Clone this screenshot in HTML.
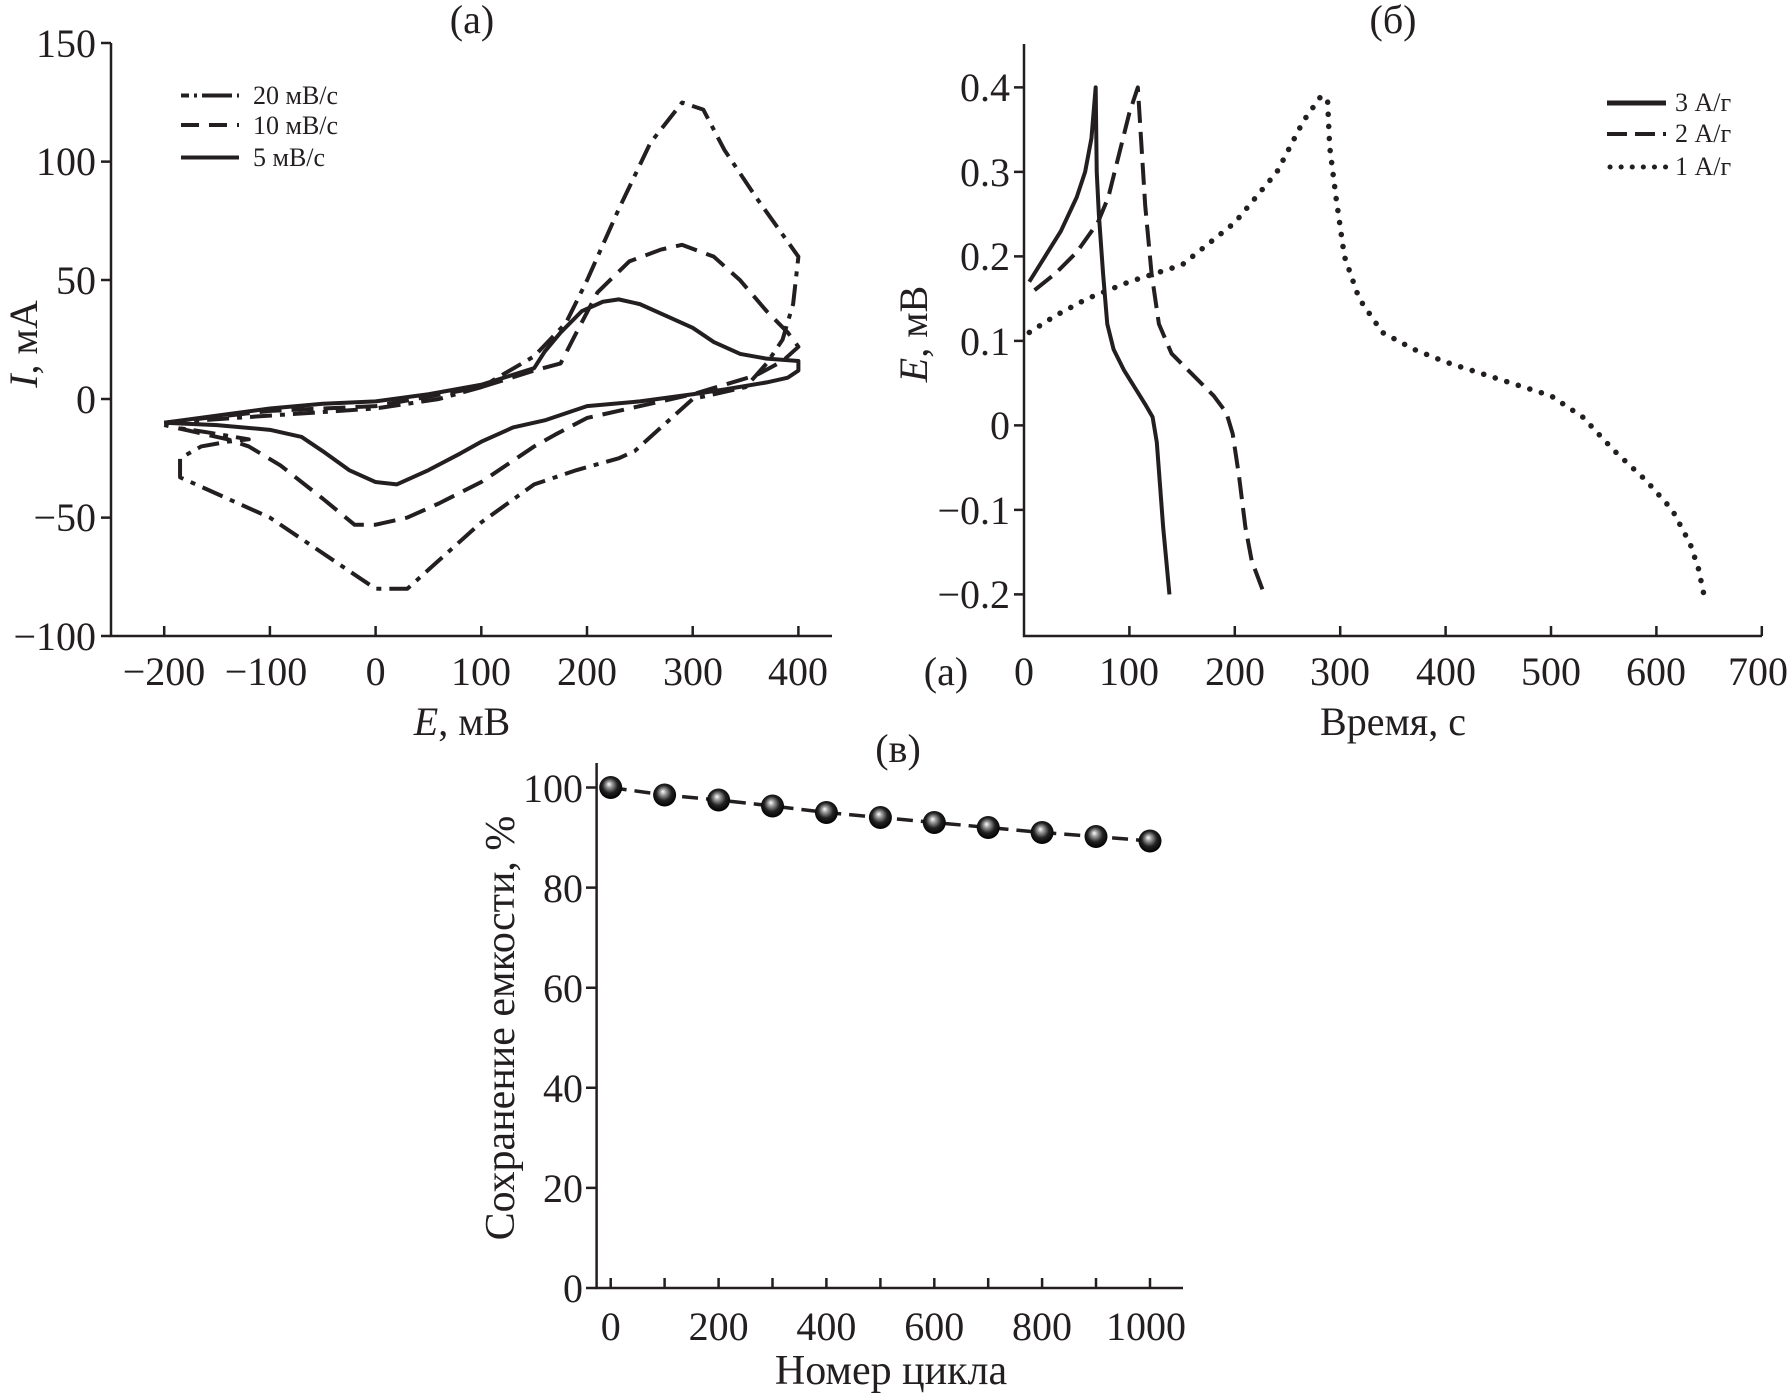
<!DOCTYPE html>
<html><head><meta charset="utf-8">
<style>
html,body{margin:0;padding:0;background:#fff;}
svg{display:block;}
text{font-family:"Liberation Serif",serif;fill:#231f20;}
.t{font-size:40px;}
.lg{font-size:26px;}
.ax{stroke:#231f20;stroke-width:2.5;fill:none;}
.c{fill:none;stroke:#231f20;stroke-width:4;stroke-linejoin:round;vector-effect:non-scaling-stroke;}
</style></head>
<body>
<svg width="1791" height="1399" viewBox="0 0 1791 1399" xmlns="http://www.w3.org/2000/svg">
<defs>
<radialGradient id="ball" cx="0.5" cy="0.45" r="0.55" fx="0.42" fy="0.35">
<stop offset="0" stop-color="#fff"/><stop offset="0.25" stop-color="#999"/><stop offset="0.6" stop-color="#222"/><stop offset="1" stop-color="#000"/>
</radialGradient>
</defs>

<!-- Panel (a) -->
<text class="t" x="472" y="33" text-anchor="middle">(a)</text>
<path class="ax" d="M111,43 V636 H832"/>
<g class="ax">
<path d="M101,43H111M101,161.6H111M101,280H111M101,399H111M101,517.6H111M101,636H111"/>
<path d="M164.2,636v-10M269.9,636v-10M375.6,636v-10M481.3,636v-10M587,636v-10M692.7,636v-10M798.4,636v-10"/>
</g>
<g class="t" text-anchor="end">
<text x="96" y="57">150</text><text x="96" y="175">100</text><text x="96" y="294">50</text>
<text x="96" y="413">0</text><text x="96" y="531">−50</text><text x="96" y="650">−100</text>
</g>
<g class="t" text-anchor="middle">
<text x="164" y="685">−200</text><text x="266" y="685">−100</text><text x="375.6" y="685">0</text>
<text x="481" y="685">100</text><text x="587" y="685">200</text><text x="693" y="685">300</text><text x="798" y="685">400</text>
</g>
<text class="t" x="462" y="735" text-anchor="middle"><tspan font-style="italic">E</tspan>, мВ</text>
<text class="t" transform="translate(37,344) rotate(-90)" text-anchor="middle"><tspan font-style="italic">I</tspan>, мА</text>
<g class="lg">
<text x="253" y="104">20 мВ/с</text><text x="253" y="134">10 мВ/с</text><text x="253" y="166">5 мВ/с</text>
</g>
<path class="c" d="M181,95.5H239" stroke-dasharray="8 5 3 5 22 0" style="vector-effect:none"/>
<path class="c" d="M181,125H239" stroke-dasharray="18 10" style="vector-effect:none"/>
<path class="c" d="M181,157.5H239" style="vector-effect:none"/>
<g transform="translate(375.6,399) scale(1.057,-2.372)">
<path class="c" stroke-dasharray="22 8 5 8" d="M-200,-10 L-100,-7 L0,-4 L60,0 L100,5 L150,18 L180,32 L200,50 L230,80 L260,108 L290,125 L310,122 L330,105 L360,85 L400,60 L395,40 L385,25 L370,15 L350,5 L300,0 L270,-12 L245,-22 L230,-25 L190,-30 L150,-36 L100,-52 L60,-68 L30,-80 L0,-80 L-40,-68 L-100,-50 L-150,-40 L-185,-33 L-185,-25 L-165,-20 L-140,-18 L-120,-17 L-160,-14 L-190,-12"/>
<path class="c" stroke-dasharray="22 10" d="M-200,-10 L-100,-5 L0,-3 L100,5 L150,12 L175,15 L190,28 L210,45 L240,58 L270,63 L290,65 L320,60 L345,50 L370,37 L390,28 L400,22 L385,16 L360,10 L300,2 L200,-8 L170,-15 L150,-20 L100,-35 L60,-44 L30,-50 L0,-53 L-20,-53 L-50,-42 L-90,-28 L-120,-20 L-140,-17 L-170,-14 L-200,-11"/>
<path class="c" d="M-200,-10 L-150,-7 L-100,-4 L-50,-2 L0,-1 L50,2 L100,6 L150,13 L160,20 L175,28 L195,37 L215,41 L230,42 L250,40 L275,35 L300,30 L320,24 L345,19 L370,17 L400,16 L400,12 L390,9 L370,7 L330,4 L300,2 L250,-1 L200,-3 L180,-6 L160,-9 L130,-12 L100,-18 L80,-23 L50,-30 L20,-36 L0,-35 L-25,-30 L-50,-22 L-70,-16 L-100,-13 L-150,-11 L-200,-10"/>
</g>

<!-- Panel (б) -->
<text class="t" x="1393" y="33" text-anchor="middle">(б)</text>
<path class="ax" d="M1024,44 V636 H1762"/>
<g class="ax">
<path d="M1014,87.4H1024M1014,171.9H1024M1014,256.4H1024M1014,340.9H1024M1014,425.4H1024M1014,509.9H1024M1014,594.4H1024"/>
<path d="M1129.4,636v-10M1234.8,636v-10M1340.2,636v-10M1445.6,636v-10M1551,636v-10M1656.4,636v-10M1761.8,636v-10"/>
</g>
<g class="t" text-anchor="end">
<text x="1010" y="101">0.4</text><text x="1010" y="186">0.3</text><text x="1010" y="270">0.2</text>
<text x="1010" y="355">0.1</text><text x="1010" y="439">0</text><text x="1010" y="524">−0.1</text><text x="1010" y="608">−0.2</text>
</g>
<g class="t" text-anchor="middle">
<text x="1024" y="685">0</text><text x="1129" y="685">100</text><text x="1235" y="685">200</text><text x="1340" y="685">300</text>
<text x="1446" y="685">400</text><text x="1551" y="685">500</text><text x="1656" y="685">600</text><text x="1758" y="685">700</text>
<text x="946" y="685">(a)</text>
</g>
<text class="t" x="1393" y="735" text-anchor="middle">Время, с</text>
<text class="t" transform="translate(927,334) rotate(-90)" text-anchor="middle"><tspan font-style="italic">E</tspan>, мВ</text>
<g class="lg">
<text x="1675" y="111">3 А/г</text><text x="1675" y="142">2 А/г</text><text x="1675" y="175">1 А/г</text>
</g>
<path class="c" d="M1607,103H1666" style="vector-effect:none;stroke-width:5"/>
<path class="c" d="M1607,134H1666" stroke-dasharray="20 8" style="vector-effect:none"/>
<path class="c" d="M1610,167H1666" stroke-dasharray="0.1 11" stroke-linecap="round" style="vector-effect:none;stroke-width:5"/>
<g transform="translate(1024,425.4) scale(1.054,-845)">
<path class="c" d="M5,0.17 L20,0.2 L35,0.23 L50,0.27 L58,0.3 L64,0.34 L68,0.4 L69,0.3 L71,0.25 L75,0.18 L79,0.12 L85,0.09 L95,0.065 L105,0.045 L115,0.025 L122,0.01 L126,-0.02 L129,-0.07 L132,-0.12 L135,-0.16 L138,-0.2"/>
<path class="c" stroke-dasharray="22 9" d="M10,0.16 L30,0.18 L50,0.205 L70,0.24 L80,0.27 L90,0.32 L100,0.37 L108,0.4 L111,0.34 L115,0.26 L121,0.18 L128,0.12 L140,0.085 L160,0.06 L180,0.035 L192,0.015 L198,-0.01 L204,-0.06 L210,-0.12 L216,-0.16 L228,-0.2"/>
<path class="c" stroke-dasharray="0.1 12" stroke-linecap="round" style="stroke-width:5.5" d="M5,0.11 L30,0.13 L60,0.15 L100,0.17 L150,0.19 L200,0.24 L240,0.3 L265,0.36 L282,0.39 L288,0.385 L290,0.33 L296,0.27 L304,0.2 L318,0.15 L340,0.11 L370,0.09 L400,0.075 L450,0.055 L500,0.035 L530,0.01 L560,-0.03 L590,-0.065 L615,-0.1 L632,-0.14 L640,-0.17 L645,-0.2"/>
</g>

<!-- Panel (в) -->
<text class="t" x="898" y="762" text-anchor="middle">(в)</text>
<path class="ax" d="M596.6,763 V1288 H1183"/>
<g class="ax">
<path d="M586,787.5H596.6M586,887.6H596.6M586,987.7H596.6M586,1087.8H596.6M586,1187.9H596.6M586,1288H596.6"/>
<path d="M610.7,1288v-10M664.6,1288v-10M718.6,1288v-10M772.5,1288v-10M826.4,1288v-10M880.4,1288v-10M934.3,1288v-10M988.2,1288v-10M1042.1,1288v-10M1096,1288v-10M1150,1288v-10"/>
</g>
<g class="t" text-anchor="end">
<text x="583" y="802">100</text><text x="583" y="902">80</text><text x="583" y="1002">60</text>
<text x="583" y="1102">40</text><text x="583" y="1202">20</text><text x="583" y="1302">0</text>
</g>
<g class="t" text-anchor="middle">
<text x="610.7" y="1340">0</text><text x="718.6" y="1340">200</text><text x="826.4" y="1340">400</text>
<text x="934.3" y="1340">600</text><text x="1042" y="1340">800</text><text x="1146" y="1340">1000</text>
</g>
<text class="t" x="891" y="1384" text-anchor="middle" style="font-size:42px">Номер цикла</text>
<text class="t" transform="translate(514,1028) rotate(-90)" text-anchor="middle" style="font-size:42px">Сохранение емкости, %</text>
<path d="M610.7,787.5 L664.6,795 L718.6,800 L772.5,806 L826.4,812.5 L880.4,817.5 L934.3,822.5 L988.2,827.5 L1042.1,832.5 L1096,836.5 L1150,841" fill="none" stroke="#231f20" stroke-width="3.5" stroke-dasharray="16 8"/>
<g fill="url(#ball)">
<circle cx="610.7" cy="787.5" r="11.5"/><circle cx="664.6" cy="795" r="11.5"/><circle cx="718.6" cy="800" r="11.5"/>
<circle cx="772.5" cy="806" r="11.5"/><circle cx="826.4" cy="812.5" r="11.5"/><circle cx="880.4" cy="817.5" r="11.5"/>
<circle cx="934.3" cy="822.5" r="11.5"/><circle cx="988.2" cy="827.5" r="11.5"/><circle cx="1042.1" cy="832.5" r="11.5"/>
<circle cx="1096" cy="836.5" r="11.5"/><circle cx="1150" cy="841" r="11.5"/>
</g>
</svg>
</body></html>
